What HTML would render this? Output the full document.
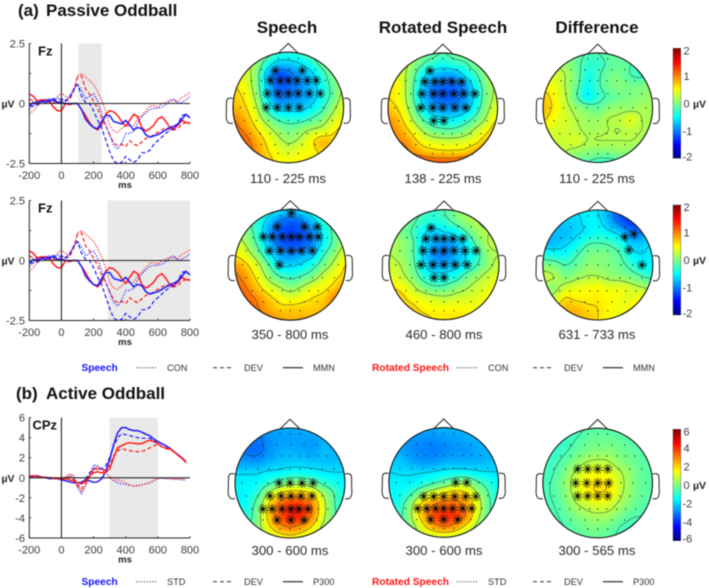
<!DOCTYPE html>
<html lang="en">
<head>
<meta charset="utf-8">
<title>Passive and Active Oddball ERP figure</title>
<style>
html,body{margin:0;padding:0;background:#fff;}
#figure{position:relative;width:709px;height:588px;overflow:hidden;background:#fff;filter:blur(.4px);font-family:"Liberation Sans",Arial,sans-serif;}
#figure canvas{position:absolute;display:block;}
#chart{position:absolute;left:0;top:0;}
.tick{font-size:11px;fill:#3c3c3c;}
.head{font-size:17px;font-weight:bold;fill:#111;text-anchor:middle;}
.section{font-size:17px;font-weight:bold;fill:#111;}
.win{font-size:13.2px;fill:#2a2a2a;text-anchor:middle;}
.unit{font-size:10.5px;font-weight:bold;fill:#222;}
.elec{font-size:13px;font-weight:bold;fill:#111;}
.leg{font-size:9.2px;fill:#333;}
.legb{font-size:10.2px;font-weight:bold;}
.ms{font-size:9.5px;font-weight:bold;fill:#222;text-anchor:middle;}
</style>
</head>
<body>
<div id="figure">
<svg id="chart" width="709" height="588" viewBox="0 0 709 588" xmlns="http://www.w3.org/2000/svg">
  <defs id="defs"></defs>
  <g id="marks"></g>
  <text class="section" x="18" y="16">(a)</text>
  <text class="section" x="46" y="16">Passive Oddball</text>
  <text class="section" x="16" y="399">(b)</text>
  <text class="section" x="46" y="399">Active Oddball</text>
  <text class="head" x="287" y="33">Speech</text>
  <text class="head" x="443" y="33">Rotated Speech</text>
  <text class="head" x="597" y="33">Difference</text>
  <text class="win" x="288" y="183">110 - 225 ms</text>
  <text class="win" x="443" y="183">138 - 225 ms</text>
  <text class="win" x="597" y="183">110 - 225 ms</text>
  <text class="win" x="290" y="339">350 - 800 ms</text>
  <text class="win" x="444" y="339">460 - 800 ms</text>
  <text class="win" x="597" y="339">631 - 733 ms</text>
  <text class="win" x="290" y="555">300 - 600 ms</text>
  <text class="win" x="444" y="555">300 - 600 ms</text>
  <text class="win" x="597" y="555">300 - 565 ms</text>
  <text class="legb" x="81.5" y="371" fill="#1414ff">Speech</text>
  <text class="leg" x="167" y="371">CON</text>
  <text class="leg" x="244" y="371">DEV</text>
  <text class="leg" x="313" y="371">MMN</text>
  <text class="legb" x="372" y="371" fill="#ff1414">Rotated Speech</text>
  <text class="leg" x="488" y="371">CON</text>
  <text class="leg" x="564" y="371">DEV</text>
  <text class="leg" x="633" y="371">MMN</text>
  <text class="legb" x="81.5" y="585" fill="#1414ff">Speech</text>
  <text class="leg" x="167" y="585">STD</text>
  <text class="leg" x="244" y="585">DEV</text>
  <text class="leg" x="313" y="585">P300</text>
  <text class="legb" x="372" y="585" fill="#ff1414">Rotated Speech</text>
  <text class="leg" x="488" y="585">STD</text>
  <text class="leg" x="564" y="585">DEV</text>
  <text class="leg" x="633" y="585">P300</text>
</svg>
</div>
<script>
/* ---------- ERP series (uV), sampled every 25 ms from -200 ms ---------- */
const passiveTimes = [-200,-175,-150,-125,-100,-75,-50,-25,0,25,50,75,100,125,150,175,200,225,250,275,300,325,350,375,400,425,450,475,500,525,550,575,600,625,650,675,700,725,750,775,800];
const activeTimes = [-200,-175,-150,-125,-100,-75,-50,-25,0,25,50,75,100,125,150,175,200,225,250,275,300,325,350,375,400,425,450,475,500,525,550,575,600,625,650,675,700,725,750,775];
const rotatedCon = [-.45,-.3,-.1,0,.1,.05,.1,.3,.45,.3,.2,.5,1.15,1.25,1.1,.95,.8,.5,.15,-.3,-.9,-1.15,-1.2,-1.05,-.9,-.95,-.9,-.6,-.5,-.3,-.1,-.1,-.15,0,.05,.15,.1,.1,.25,.35,.45];
const rotatedDev = [.2,.1,.05,.15,.1,.1,.05,0,.1,.1,.15,.5,1.1,1.15,.6,.4,.1,-.2,-.6,-.9,-1.3,-1.65,-1.75,-1.7,-1.8,-1.55,-1.7,-1.75,-1.6,-1.45,-1.4,-1.3,-1.2,-1.1,-1,-1.1,-1.1,-1.05,-.85,-.8,-.85];
const rotatedMmn = [.4,.3,.1,.15,.15,.1,-.15,-.3,-.3,0,-.05,0,0,-.25,-.5,-.8,-1,-1.1,-.9,-.45,-.3,-.35,-.5,-.75,-.95,-.7,-.45,-.55,-1,-1.15,-1.05,-.9,-.65,-.55,-.75,-1,-1.05,-.9,-.7,-.8,-.8];
const speechCon = [-.25,-.1,.1,.05,.15,.2,.1,.25,.15,.15,.3,.6,.8,.55,.2,.3,.4,.1,-.4,-.9,-1.3,-1.75,-1.9,-1.65,-1.25,-1.25,-1.15,-.8,-.55,-.4,-.25,-.2,-.2,-.15,-.05,.1,.2,0,.05,.15,.3];
const speechDev = [-.1,-.1,.05,.1,.1,.15,.1,.1,.2,.1,.25,.55,.8,.3,.05,0,-.3,-.7,-1,-1.5,-2,-2.4,-2.5,-2.45,-2.2,-2.35,-2.45,-2.35,-2.05,-2.05,-1.95,-1.7,-1.55,-1.4,-1.25,-1.1,-1.05,-.85,-.5,-.45,-.6];
const speechMmn = [-.1,.05,-.05,.1,.05,.1,.2,.05,.05,0,0,0,0,-.25,-.65,-.85,-1,-1.05,-.75,-.5,-.5,-.75,-.8,-.85,-.7,-.9,-1.1,-1,-1.05,-1.3,-1.4,-1.35,-1.3,-1.2,-1.1,-1,-.95,-.85,-.65,-.45,-.6];
const activeRotStd = [.2,.2,.15,.1,.05,0,-.05,-.1,-.1,.1,.35,.3,-.6,-1.4,-.8,.2,1,1.1,.85,.5,.1,-.25,-.2,-.3,-.5,-.7,-.85,-.8,-.7,-.6,-.45,-.25,-.1,0,-.05,-.1,-.15,-.1,-.1,-.15];
const activeRotDev = [.15,.2,.1,.05,.05,0,-.05,-.1,-.1,0,.1,-.1,-.8,-1.1,-.5,.1,.8,.9,.8,.8,1.2,2.2,2.7,2.9,2.8,2.7,2.65,2.6,2.65,2.75,3,3.2,3.3,3.1,2.9,2.8,2.6,2.25,1.95,1.5];
const activeRotP300 = [.15,.2,.1,.05,.05,0,-.05,-.1,-.1,-.1,-.2,-.3,-.5,-.6,-.3,.2,.5,.6,.5,.5,.9,2,3,3.2,3.4,3.5,3.45,3.4,3.4,3.6,3.75,3.6,3.4,3.1,2.95,2.9,2.6,2.25,1.95,1.55];
const activeSpStd = [.1,.1,.15,.05,0,-.05,-.1,-.1,-.1,.1,.3,.1,-1,-1.6,-.8,.3,1.3,1.2,.9,.5,.1,-.3,-.5,-.6,-.65,-.75,-.8,-.75,-.7,-.6,-.5,-.3,-.1,-.05,-.1,-.1,-.15,-.15,-.2,-.25];
const activeSpDev = [.1,.1,.15,.05,0,-.1,-.1,-.05,-.1,0,.1,-.2,-.8,-.7,-.1,.5,.9,.9,.9,1.2,2,3.2,4,4.4,4.3,4.2,4.1,4,3.95,3.95,3.95,3.75,3.6,3.4,3.15,2.95,2.6,2.3,1.95,1.5];
const activeSpP300 = [.15,.15,.2,.1,0,-.05,-.05,-.1,-.2,-.3,-.4,-.5,-.5,-.45,-.2,-.3,-.45,-.4,-.1,.6,1.8,3.3,4.5,5,5,4.8,4.7,4.7,4.55,4.35,4.2,3.85,3.6,3.4,3.2,2.95,2.6,2.3,2,1.6];

/* ---------- tick labels ---------- */
const xTickLabels = [-200,0,200,400,600,800];
const passiveTickLabels = [2.5,0,-2.5];
const passiveTickMarks = [2.5,1.25,0,-1.25,-2.5];
const activeTickLabels = [6,4,2,0,-2,-4,-6];
const scaleTicksA = [2,1,0,-1,-2];
const scaleTicksB = [6,4,2,0,-2,-4,-6];

/* ---------- topographic values (uV), 11 x 11 grid, top row = front of head ---------- */
const mapSpeechA1 = [
[.3,.3,.2,0,-.3,-.4,-.3,-.1,0,.2,.3],[.4,.3,.1,-.35,-.7,-.7,-.6,-.4,-.1,.1,.3],[.5,.35,.05,-.7,-1.15,-1.1,-.85,-.7,-.35,0,.2],[.6,.45,.05,-.65,-1.1,-1.1,-.95,-.75,-.45,-.1,.2],[.7,.55,.15,-.55,-1,-1,-.9,-.75,-.45,-.1,.3],[.8,.65,.3,-.3,-.7,-.7,-.7,-.55,-.3,.1,.4],[1,.8,.45,.05,-.25,-.35,-.35,-.2,0,.3,.5],[1.1,.95,.65,.35,.1,-.05,.05,.2,.3,.5,.7],[1.35,1.15,.85,.55,.3,.15,.25,.5,.75,.7,.9],[1.5,1.25,.95,.65,.45,.35,.45,.5,.65,.7,.9],[1.5,1.3,1.05,.75,.55,.5,.5,.6,.6,.7,.9]];
const mapRotatedA1 = [
[.4,.3,.2,0,-.1,-.2,-.1,0,.1,.2,.3],[.5,.4,.15,-.15,-.35,-.45,-.35,-.25,0,.1,.3],[.55,.4,.05,-.45,-.75,-.85,-.85,-.55,-.25,.1,.3],[.6,.45,0,-.6,-1,-1.1,-1.1,-.9,-.45,0,.3],[.6,.45,0,-.65,-1,-1.15,-1.1,-.9,-.5,0,.3],[.7,.55,.1,-.45,-.8,-.9,-.9,-.75,-.4,.1,.4],[.9,.7,.3,-.15,-.45,-.55,-.55,-.4,-.1,.25,.6],[1,.85,.55,.2,-.05,-.15,-.15,0,.25,.5,.85],[1.1,1,.8,.5,.35,.3,.3,.35,.5,.8,1.1],[1.4,1.3,1,.8,.7,.65,.65,.7,.9,1.1,1.4],[1.6,1.5,1.4,1.3,1.2,1.2,1.2,1.3,1.4,1.5,1.6]];
const mapDifferenceA1 = [
[.2,.1,.1,-.1,-.2,-.2,-.1,-.1,-.2,-.2,-.1],[.3,.2,.1,-.1,-.3,-.3,-.15,-.1,-.2,-.3,-.2],[.4,.35,.2,-.05,-.4,-.25,-.05,-.05,-.2,-.25,-.1],[.5,.45,.2,-.1,-.45,-.25,-.05,0,-.05,0,.05],[.7,.5,.25,-.15,-.5,-.3,-.15,-.05,0,.05,.1],[.75,.55,.3,.1,-.05,-.1,.05,.1,.1,.15,.15],[.65,.45,.35,.2,.1,.1,.2,.25,.4,.2,.15],[.4,.35,.3,.25,.15,.15,.2,.2,.25,.2,.15],[.3,.3,.3,.35,.2,.2,.2,.2,.2,.15,.1],[.2,.2,.2,.1,.05,0,0,.05,.05,.05,0],[.1,.1,.1,-.1,-.2,-.3,-.3,-.2,-.05,0,0]];
const mapSpeechA2 = [
[0,-.1,-.25,-.4,-.6,-.75,-.6,-.4,-.25,-.1,0],[.1,-.1,-.35,-.7,-1,-1.1,-1,-.7,-.35,-.1,.1],[.2,0,-.35,-.85,-1.15,-1.25,-1.15,-.95,-.5,-.1,.1],[.35,.15,-.25,-.75,-1.1,-1.2,-1.15,-.95,-.5,-.1,.2],[.55,.35,0,-.5,-.85,-.95,-.85,-.7,-.25,.1,.4],[.85,.65,.3,-.15,-.6,-.65,-.55,-.35,0,.3,.6],[1.05,.85,.5,.1,-.2,-.3,-.2,0,.3,.5,.7],[1.15,1,.7,.4,.2,.05,.2,.4,.5,.7,1],[1.35,1.15,.95,.7,.5,.4,.5,.6,.7,1,1.3],[1.5,1.35,1.05,.85,.7,.7,.7,.7,.8,1.1,1.4],[1.6,1.45,1.25,1,.9,.8,.8,.8,.9,1.1,1.3]];
const mapRotatedA2 = [
[.2,.1,0,-.2,-.3,-.2,0,.1,.3,.3,.4],[.2,.1,-.1,-.3,-.4,-.3,-.1,.1,.2,.3,.4],[.2,0,-.2,-.5,-.7,-.6,-.5,-.2,.1,.2,.3],[.2,.1,-.1,-.6,-.8,-.9,-.8,-.5,-.1,.2,.3],[.2,.1,-.1,-.6,-.9,-1,-.8,-.6,-.3,.1,.2],[.3,.2,-.05,-.5,-.8,-.8,-.7,-.5,-.2,.1,.3],[.4,.3,.05,-.3,-.5,-.5,-.4,-.1,.1,.3,.4],[.6,.5,.3,0,-.15,-.15,0,.15,.3,.4,.5],[.8,.7,.5,.4,.3,.25,.3,.35,.4,.5,.6],[.9,.8,.7,.55,.5,.5,.5,.5,.5,.6,.6],[1,.9,.8,.7,.6,.6,.6,.6,.6,.6,.6]];
const mapDifferenceA2 = [
[-.65,-.65,-.65,-.6,-.55,-.6,-.85,-1.2,-1.3,-1.3,-1],[-.75,-.75,-.7,-.65,-.55,-.55,-.8,-1.1,-1.3,-1.2,-1],[-.75,-.75,-.75,-.65,-.55,-.45,-.55,-.7,-1,-1,-.7],[-.75,-.75,-.65,-.5,-.25,-.2,-.25,-.4,-.7,-.7,-.6],[-.4,-.45,-.45,-.25,-.05,0,-.05,-.2,-.5,-.6,-.5],[0,-.05,-.2,-.1,.05,.05,0,-.1,-.3,-.5,-.5],[.3,.2,0,.1,.2,.2,.1,.05,-.05,-.2,-.3],[.1,.1,.3,.4,.45,.5,.4,.4,.3,.2,.1],[.2,.3,.6,.55,.55,.55,.5,.45,.4,.5,.4],[.3,.6,.8,.75,.65,.6,.5,.45,.5,.7,.6],[.5,.7,.85,.85,.75,.6,.5,.45,.5,.7,.7]];
const mapSpeechB = [
[-2.8,-2.8,-2.8,-2.6,-2.5,-2.5,-2.5,-2.4,-2.2,-2,-1.8],[-2.9,-3,-3.1,-2.8,-2.6,-2.6,-2.6,-2.6,-2.4,-2.2,-2],[-2.9,-3.1,-3.2,-2.8,-2.5,-2.4,-2.5,-2.6,-2.3,-2.4,-2.3],[-2.6,-2.7,-2.7,-2.4,-2.2,-2.1,-2.1,-2.2,-2.2,-2.2,-2.2],[-1.9,-1.9,-1.9,-1.7,-1.6,-1.4,-1.4,-1.5,-1.7,-1.8,-1.8],[-1.6,-1.6,-1.4,-.8,-.2,.3,.3,-.1,-.8,-1.2,-1.6],[-1.6,-1.5,-.8,.7,1.9,2.4,2.4,1.8,.5,-.6,-1.4],[-1.5,-1.3,-.2,1.8,3.2,4,3.9,2.9,1,-.5,-1.3],[-1.4,-1.1,0,2,3.4,4.1,3.9,2.8,.9,-.4,-1.2],[-1.3,-.9,.1,1.5,2.6,3,2.6,1.7,.4,-.5,-1.1],[-1.2,-.9,-.2,.6,1.2,1.5,1.2,.5,-.2,-.7,-1]];
const mapRotatedB = [
[-2.2,-2.3,-2.5,-2.5,-2.5,-2.4,-2.4,-2.4,-2.3,-2.2,-2],[-2.3,-2.5,-2.7,-2.8,-2.8,-2.7,-2.6,-2.5,-2.4,-2.3,-2.1],[-2.3,-2.5,-2.8,-2.9,-3,-2.9,-2.7,-2.7,-2.5,-2.4,-2.2],[-2.1,-2.2,-2.5,-2.7,-2.7,-2.5,-2.4,-2.4,-2.4,-2.3,-2.1],[-1.8,-1.9,-1.9,-1.9,-1.8,-1.6,-1.5,-1.5,-1.7,-1.8,-1.8],[-1.6,-1.6,-1.6,-1.2,-.8,-.3,.2,.4,-.4,-1,-1.6],[-1.5,-1.4,-.7,.4,1.3,1.9,2.3,1.9,.7,-.5,-1.3],[-1.4,-1,.3,2,2.9,3.3,3.3,2.7,1.3,-.3,-1.2],[-1.3,-.8,.5,2.2,3.5,4,3.8,2.9,1.1,-.4,-1.1],[-1.2,-.7,.1,1.4,2.5,3,2.6,1.6,.4,-.5,-1],[-1,-.7,-.2,.4,.8,1,.8,.3,-.2,-.6,-.9]];
const mapDifferenceB = [
[-1.2,-1.1,-1,-.8,-.55,-.45,-.45,-.55,-.6,-.6,-.6],[-1.2,-1.1,-.9,-.6,-.35,-.25,-.25,-.35,-.5,-.6,-.6],[-1,-.9,-.7,-.35,-.05,.1,.1,-.15,-.35,-.5,-.6],[-.85,-.75,-.4,.1,.55,.7,.6,.15,-.15,-.45,-.5],[-.75,-.6,0,.7,1.2,1.4,1.2,.7,.1,-.35,-.45],[-.7,-.5,.15,1,1.6,1.8,1.7,.9,.2,-.35,-.45],[-.7,-.5,.05,.9,1.5,1.75,1.6,.8,.1,-.35,-.45],[-.7,-.6,-.15,.5,.85,1.1,.95,.4,-.1,-.45,-.5],[-.75,-.7,-.4,0,.35,.45,.35,-.1,-.5,-.6,-.6],[-.85,-.75,-.6,-.35,-.1,0,-.2,-.6,-.8,-.8,-.8],[-.95,-.8,-.7,-.55,-.3,-.3,-.45,-.7,-.9,-.9,-.9]];

/* ---------- helpers ---------- */
const SVGNS = 'http://www.w3.org/2000/svg';
const marks = document.getElementById('marks');
const defs = document.getElementById('defs');
const figure = document.getElementById('figure');
function mk(tag, attrs, parent, text) {
  const n = document.createElementNS(SVGNS, tag);
  for (const k in attrs) n.setAttribute(k, attrs[k]);
  if (text !== undefined) n.textContent = text;
  (parent || marks).appendChild(n);
  return n;
}
const xScale = ms => 29.3 + (ms + 200) / 1000 * 160.7;
const clamp01 = v => Math.max(0, Math.min(1, v));
function jet(n) {
  return [clamp01(1.5 - Math.abs(4 * n - 3)), clamp01(1.5 - Math.abs(4 * n - 2)), clamp01(1.5 - Math.abs(4 * n - 1))];
}
function rgbStr(c) { return 'rgb(' + c.map(v => Math.round(v * 255)).join(',') + ')'; }

/* ---------- ERP plots ---------- */
function drawPlot(cfg) {
  const g = mk('g', {});
  
  
  const yScale = v => cfg.yMid - v * cfg.yPerUnit;
  const top = yScale(cfg.yMax), bottom = yScale(-cfg.yMax);
  const shade = mk('rect', {x: xScale(cfg.shade[0]), y: top, width: xScale(cfg.shade[1]) - xScale(cfg.shade[0]), height: bottom - top, fill: '#e9e9e9'}, g);
  
  
  const seriesList = cfg.series;
  seriesList.forEach(s => {
    const pts = s.values.map((v, i) => xScale(cfg.times[i]).toFixed(2) + ',' + yScale(Math.max(-cfg.yMax, v)).toFixed(2)).join(' ');
    const line = mk('polyline', {points: pts, fill: 'none', stroke: s.color, 'stroke-width': s.width, 'stroke-dasharray': s.dash, 'stroke-linejoin': 'round'}, g);
    
    
  });
  const zeroH = mk('line', {x1: xScale(-200), x2: xScale(800), y1: yScale(0), y2: yScale(0), stroke: '#222', 'stroke-width': 1.1}, g);
  
  
  const zeroV = mk('line', {x1: xScale(0), x2: xScale(0), y1: top, y2: bottom, stroke: '#222', 'stroke-width': 1.1}, g);
  
  
  const yAxis = mk('line', {x1: xScale(-200), x2: xScale(-200), y1: top, y2: bottom, stroke: '#222', 'stroke-width': 1}, g);
  
  
  const xAxis = mk('line', {x1: xScale(-200), x2: xScale(800), y1: bottom, y2: bottom, stroke: '#222', 'stroke-width': 1}, g);
  
  
  xTickLabels.forEach(t => {
    const m = mk('line', {x1: xScale(t), x2: xScale(t), y1: bottom, y2: bottom - 2, stroke: '#222', 'stroke-width': .8}, g);
    
    
    const l = mk('text', {x: xScale(t), y: bottom + cfg.xLabelGap, class: 'tick', 'text-anchor': 'middle'}, g, String(t));
    
    
  });
  cfg.tickMarks.forEach(t => {
    const m = mk('line', {x1: xScale(-200), x2: xScale(-200) + 2, y1: yScale(t), y2: yScale(t), stroke: '#222', 'stroke-width': .8}, g);
    
    
  });
  cfg.tickLabels.forEach(t => {
    const l = mk('text', {x: 25, y: yScale(t) + 4, class: 'tick', 'text-anchor': 'end'}, g, String(t));
    
    
  });
  const unit = mk('text', {x: 1.5, y: yScale(0) + 4, class: 'unit'}, g, 'µV');
  
  
  const ms = mk('text', {x: 125, y: bottom + cfg.msGap, class: 'ms'}, g, 'ms');
  
  
  const el = mk('text', {x: cfg.elecX, y: top + 12, class: 'elec'}, g, cfg.electrode);
  
  
}
const RED = '#ff1a1a', BLUE = '#1a1aff';
const DOT = '1.1 1.6', DASH = '4 2.4', SOLID = 'none';
const passiveSeries = [
  {label: 'rotated-con-line', values: rotatedCon, color: RED, width: 1.3, dash: DOT},
  {label: 'rotated-dev-line', values: rotatedDev, color: RED, width: 1.2, dash: DASH},
  {label: 'rotated-mmn-line', values: rotatedMmn, color: RED, width: 1.5, dash: SOLID},
  {label: 'speech-con-line', values: speechCon, color: BLUE, width: 1.3, dash: DOT},
  {label: 'speech-dev-line', values: speechDev, color: BLUE, width: 1.2, dash: DASH},
  {label: 'speech-mmn-line', values: speechMmn, color: BLUE, width: 1.5, dash: SOLID}
];
const activeSeries = [
  {label: 'speech-std-line', values: activeSpStd, color: BLUE, width: 1.3, dash: DOT},
  {label: 'speech-dev-line', values: activeSpDev, color: BLUE, width: 1.2, dash: DASH},
  {label: 'speech-p300-line', values: activeSpP300, color: BLUE, width: 1.5, dash: SOLID},
  {label: 'rotated-std-line', values: activeRotStd, color: RED, width: 1.3, dash: DOT},
  {label: 'rotated-dev-line', values: activeRotDev, color: RED, width: 1.2, dash: DASH},
  {label: 'rotated-p300-line', values: activeRotP300, color: RED, width: 1.5, dash: SOLID}
];
drawPlot({name: 'erp-plot-passive-early', times: passiveTimes, series: passiveSeries, yMid: 103.5, yPerUnit: 24, yMax: 2.5, shade: [105, 250], tickMarks: passiveTickMarks, tickLabels: passiveTickLabels, electrode: 'Fz', elecX: 38, xLabelGap: 15.5, msGap: 24.5});
drawPlot({name: 'erp-plot-passive-late', times: passiveTimes, series: passiveSeries, yMid: 260.5, yPerUnit: 24, yMax: 2.5, shade: [288, 800], tickMarks: passiveTickMarks, tickLabels: passiveTickLabels, electrode: 'Fz', elecX: 38, xLabelGap: 15.5, msGap: 24.5});
drawPlot({name: 'erp-plot-active', times: activeTimes, series: activeSeries, yMid: 477.8, yPerUnit: 10.03, yMax: 6, shade: [300, 600], tickMarks: activeTickLabels, tickLabels: activeTickLabels, electrode: 'CPz', elecX: 32.5, xLabelGap: 15.5, msGap: 24.5});

/* ---------- legend line samples ---------- */
const legendColumns = [[136, 157, DOT, 1.2], [213, 231, '4 3', 1.2], [283, 303, SOLID, 1.4], [457, 477, DOT, 1.2], [533, 551, '4 3', 1.2], [603, 623, SOLID, 1.4]];
[367.7, 581.7].forEach(y => {
  legendColumns.forEach(c => {
    const s = mk('line', {x1: c[0], x2: c[1], y1: y, y2: y, stroke: '#444', 'stroke-width': c[3], 'stroke-dasharray': c[2]});
    
    
  });
});

/* ---------- topographic maps ---------- */
const sensorRows = [
  [-49,[-10,0,10]],[-38,[-27,-13,1,14,27]],[-27,[-37,-27,-18,-8,0,9,19,28,37]],
  [-14,[-44,-32,-21,-10,0,10,21,32,44]],[0,[-48,-34,-22,-11,0,11,23,35,48]],
  [13,[-44,-32,-20,-9,0,10,22,32,44]],[26,[-38,-28,-18,-8,0,9,19,28,38]],
  [37,[-27,-13,0,14,27]],[46,[-10,0,10]]
];
const starsSpeechA1 = [[-37,[-13,14]],[-27,[-18,-8,0,9,19,28]],[-14,[-21,-10,0,10,21,32]],[0,[-22,-11,0,11]]];
const starsRotatedA1 = [[-37,[-13]],[-26,[-18,-8,0,9,19]],[-14,[-21,-9,0,11,21,32]],[0,[-22,-10,0,12,23]],[13,[-9,1]]];
const starsSpeechA2 = [[-52,[1]],[-38,[-13,14,27]],[-28,[-27,-18,-8,1,9,19,28]],[-14,[-21,-10,1,11,22]],[0,[-11]]];
const starsRotatedA2 = [[-37,[-13]],[-26,[-18,-8,0,9,19]],[-14,[-21,-10,0,10,21,32]],[0,[-23,-11,0,11,23]],[13,[-10,0]]];
const starsDifferenceA2 = [[-28,[27]],[-31,[36]],[-15,[31]],[0,[44]]];
const starsSpeechB = [[0,[-11,0,12,23]],[13,[-20,-9,1,11,22]],[26,[-27,-18,-8,1,9,18]],[37,[-13,1,14]]];
const starsRotatedB = [[0,[12,23]],[14,[-20,-10,0,11,22,32]],[26,[-26,-17,-8,0,9,19,28]],[37,[-13,0,14]]];
const starsDifferenceB = [[-14,[-20,-10,0,10]],[0,[-22,-11,0,11]],[13,[-20,-10,0,10]]];

function catmull(p0, p1, p2, p3, t) {
  return .5 * (2 * p1 + (p2 - p0) * t + (2 * p0 - 5 * p1 + 4 * p2 - p3) * t * t + (3 * p1 - p0 - 3 * p2 + p3) * t * t * t);
}
function sampleGrid(grid, u, v) {
  const n = grid.length - 1;
  const cu = Math.max(0, Math.min(n, u)), cv = Math.max(0, Math.min(n, v));
  const iu = Math.min(n - 1, Math.floor(cu)), iv = Math.min(n - 1, Math.floor(cv));
  const tu = cu - iu, tv = cv - iv;
  const at = (r, c) => grid[Math.max(0, Math.min(n, r))][Math.max(0, Math.min(n, c))];
  const rows = [];
  for (let r = -1; r <= 2; r++) rows.push(catmull(at(iv + r, iu - 1), at(iv + r, iu), at(iv + r, iu + 1), at(iv + r, iu + 2), tu));
  return catmull(rows[0], rows[1], rows[2], rows[3], tv);
}
function contourPath(field, size, step, level, ox, oy, cx, cy, r) {
  const interp = (a, b) => (level - a) / (b - a);
  let d = '';
  for (let j = 0; j + step < size; j += step) {
    for (let i = 0; i + step < size; i += step) {
      const mx = i + step / 2 + ox - cx, my = j + step / 2 + oy - cy;
      if (mx * mx + my * my > r * r) continue;
      const a = field[j][i], b = field[j][i + step], c = field[j + step][i + step], e = field[j + step][i];
      const pts = [];
      if ((a < level) !== (b < level)) pts.push([i + step * interp(a, b), j]);
      if ((b < level) !== (c < level)) pts.push([i + step, j + step * interp(b, c)]);
      if ((e < level) !== (c < level)) pts.push([i + step * interp(e, c), j + step]);
      if ((a < level) !== (e < level)) pts.push([i, j + step * interp(a, e)]);
      for (let k = 0; k + 1 < pts.length; k += 2) {
        d += 'M' + (pts[k][0] + ox).toFixed(1) + ' ' + (pts[k][1] + oy).toFixed(1) + 'L' + (pts[k + 1][0] + ox).toFixed(1) + ' ' + (pts[k + 1][1] + oy).toFixed(1);
      }
    }
  }
  return d;
}
function drawHead(cfg) {
  const cx = cfg.cx, cy = cfg.cy, r = cfg.r;
  const size = Math.ceil(r * 2) + 3;
  const ox = Math.floor(cx - r) - 1, oy = Math.floor(cy - r) - 1;
  const field = [];
  for (let j = 0; j < size; j++) {
    const row = [];
    for (let i = 0; i < size; i++) {
      const u = ((i + ox - cx) / r + 1) * 5, v = ((j + oy - cy) / r + 1) * 5;
      row.push(sampleGrid(cfg.values, u, v));
    }
    field.push(row);
  }
  const canvas = document.createElement('canvas');
  canvas.width = size;
  canvas.height = size;
  canvas.style.left = ox + 'px';
  canvas.style.top = oy + 'px';
  
  
  figure.insertBefore(canvas, figure.firstChild);
  const ctx = canvas.getContext('2d');
  const img = ctx.createImageData(size, size);
  for (let j = 0; j < size; j++) {
    for (let i = 0; i < size; i++) {
      const dx = i + ox + .5 - cx, dy = j + oy + .5 - cy;
      const dist = Math.sqrt(dx * dx + dy * dy);
      const c = jet((field[j][i] + cfg.range) / (2 * cfg.range));
      const p = (j * size + i) * 4;
      img.data[p] = c[0] * 255;
      img.data[p + 1] = c[1] * 255;
      img.data[p + 2] = c[2] * 255;
      img.data[p + 3] = 255 * clamp01(r - dist + .5);
    }
  }
  ctx.putImageData(img, 0, 0);

  const g = mk('g', {});
  
  
  const step = cfg.range / 5;
  for (let lvl = -cfg.range + step / 2; lvl < cfg.range; lvl += step) {
    const d = contourPath(field, size, 2, lvl, ox, oy, cx, cy, r);
    if (!d) continue;
    const c = mk('path', {d: d, fill: 'none', stroke: '#2c3b3b', 'stroke-width': .8, 'stroke-opacity': .6}, g);
    
    
  }
  sensorRows.forEach(row => {
    row[1].forEach(dx => {
      const s = mk('circle', {cx: cx + dx, cy: cy + row[0], r: .6, fill: '#111'}, g);
      
      
    });
  });
  cfg.stars.forEach(row => {
    row[1].forEach(dx => {
      const sg = mk('g', {}, g);
      
      
      const sx = cx + dx, sy = cy + row[0];
      for (let k = 0; k < 5; k++) {
        const a = k * Math.PI / 5 + Math.PI / 10;
        mk('line', {x1: sx - 5 * Math.cos(a), y1: sy - 5 * Math.sin(a), x2: sx + 5 * Math.cos(a), y2: sy + 5 * Math.sin(a), stroke: '#0c0c0c', 'stroke-width': .75}, sg);
      }
      mk('circle', {cx: sx, cy: sy, r: 1.2, fill: '#000'}, sg);
    });
  });
  const outline = mk('circle', {cx: cx, cy: cy, r: r, fill: 'none', stroke: '#111', 'stroke-width': 1.1}, g);
  
  
  const nose = mk('path', {d: 'M' + (cx - 10) + ' ' + (cy - r + 1) + 'L' + cx + ' ' + (cy - r - 8.7) + 'L' + (cx + 10) + ' ' + (cy - r + 1), fill: 'none', stroke: '#222', 'stroke-width': 1}, g);
  
  
  [-1, 1].forEach(side => {
    const ex = cx + side * r;
    const ear = mk('path', {d: 'M' + (ex + side * .2) + ' ' + (cy - 9) + 'Q' + (ex + side * 6) + ' ' + (cy - 10.5) + ' ' + (ex + side * 6.5) + ' ' + (cy - 6) + 'L' + (ex + side * 6.8) + ' ' + (cy + 10) + 'Q' + (ex + side * 6) + ' ' + (cy + 17.5) + ' ' + (ex + side * .2) + ' ' + (cy + 15.5), fill: 'none', stroke: '#222', 'stroke-width': 1}, g);
    
    
  });
}
const noStars = [];
drawHead({name: 'topomap-speech-110-225', cx: 288.3, cy: 107.5, r: 55.3, values: mapSpeechA1, range: 2, stars: starsSpeechA1});
drawHead({name: 'topomap-rotated-138-225', cx: 442.8, cy: 107.7, r: 54.8, values: mapRotatedA1, range: 2, stars: starsRotatedA1});
drawHead({name: 'topomap-difference-110-225', cx: 597.8, cy: 107.7, r: 54.8, values: mapDifferenceA1, range: 2, stars: noStars});
drawHead({name: 'topomap-speech-350-800', cx: 290.3, cy: 264.8, r: 55.4, values: mapSpeechA2, range: 2, stars: starsSpeechA2});
drawHead({name: 'topomap-rotated-460-800', cx: 444, cy: 264.7, r: 55, values: mapRotatedA2, range: 2, stars: starsRotatedA2});
drawHead({name: 'topomap-difference-631-733', cx: 597.8, cy: 265, r: 55, values: mapDifferenceA2, range: 2, stars: starsDifferenceA2});
drawHead({name: 'topomap-speech-300-600', cx: 290, cy: 483, r: 55, values: mapSpeechB, range: 6, stars: starsSpeechB});
drawHead({name: 'topomap-rotated-300-600', cx: 443.7, cy: 482.5, r: 54.8, values: mapRotatedB, range: 6, stars: starsRotatedB});
drawHead({name: 'topomap-difference-300-565', cx: 597.7, cy: 483, r: 54.8, values: mapDifferenceB, range: 6, stars: starsDifferenceB});

/* ---------- colour scales ---------- */
const grad = mk('linearGradient', {id: 'jetGradient', x1: 0, y1: 0, x2: 0, y2: 1}, defs);
for (let i = 0; i <= 16; i++) {
  mk('stop', {offset: i / 16, 'stop-color': rgbStr(jet(1 - i / 16))}, grad);
}
function drawScale(name, top, bottom, ticks) {
  const g = mk('g', {});
  
  
  const bar = mk('rect', {x: 673, y: top, width: 7.8, height: bottom - top, fill: 'url(#jetGradient)', stroke: '#444', 'stroke-width': .4}, g);
  
  
  const maxV = ticks[0];
  ticks.forEach(t => {
    const y = top + (maxV - t) / (2 * maxV) * (bottom - top);
    const l = mk('text', {x: t < 0 ? 682.5 : 683.5, y: y + 4 + (t === maxV ? 2 : 0) + (t === -maxV ? -2 : 0), class: 'tick'}, g, String(t));
    
    
  });
  const u = mk('text', {x: 693, y: (top + bottom) / 2 + 4, class: 'unit'}, g, 'µV');
  
  
}
drawScale('color-scale-a1', 48.3, 158.3, scaleTicksA);
drawScale('color-scale-a2', 205, 315, scaleTicksA);
drawScale('color-scale-b', 429.3, 540.7, scaleTicksB);
</script>
</body>
</html>
